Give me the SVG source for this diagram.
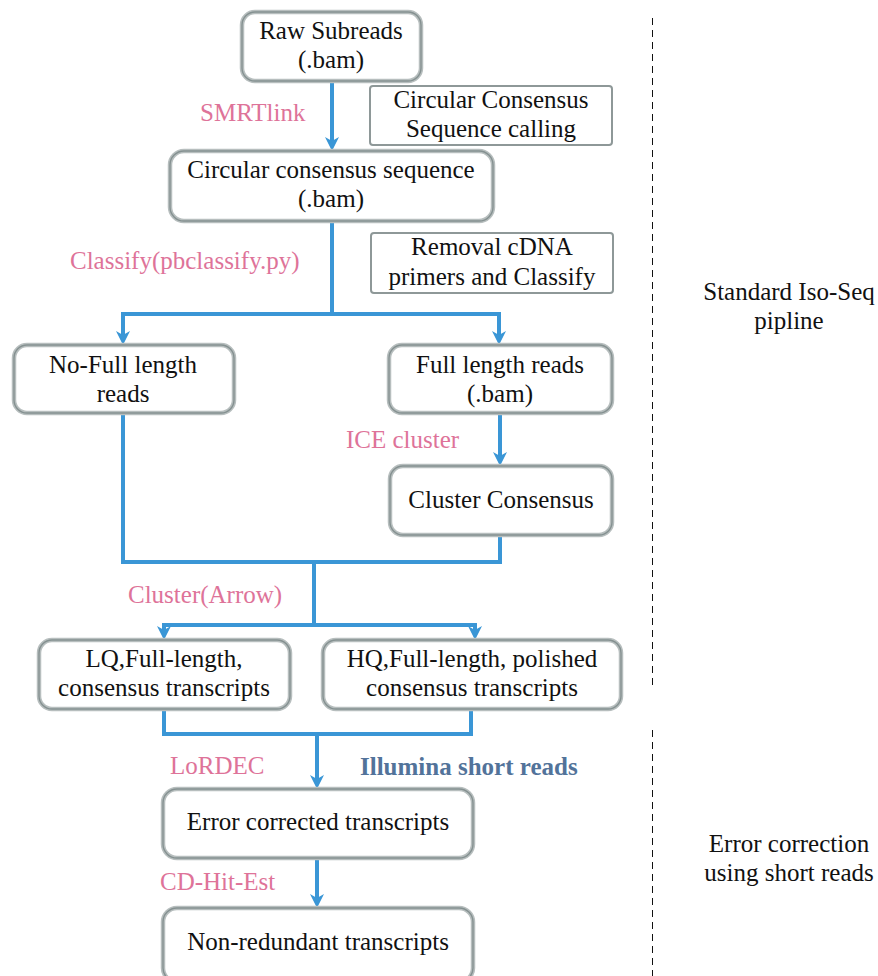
<svg xmlns="http://www.w3.org/2000/svg" width="878" height="976" viewBox="0 0 878 976">
<defs>
<style>
.box{fill:#fff;stroke:#b7bebe;stroke-width:4.5}
.boxin{fill:none;stroke:#859191;stroke-width:1.4}
.note{fill:#fff;stroke:#8e9898;stroke-width:2}
.t{font-family:"Liberation Serif","Times New Roman",serif;font-size:25px;fill:#111;text-anchor:middle}
.p{font-family:"Liberation Serif","Times New Roman",serif;font-size:25px;fill:#de7399}
.il{font-family:"Liberation Serif","Times New Roman",serif;font-size:25px;font-weight:bold;fill:#52739a}
.c{fill:none;stroke:#3a96d6;stroke-width:4;stroke-linejoin:miter}
.a{marker-end:url(#ah)}
.d{stroke:#111;stroke-width:1;stroke-dasharray:7,5;fill:none}
</style>
<marker id="ah" viewBox="0 0 14 14" refX="8" refY="7" markerWidth="14" markerHeight="14" markerUnits="userSpaceOnUse" orient="auto">
<path d="M0,0 L14,7 L0,14 L4,7 z" fill="#3a96d6"/>
</marker>
</defs>

<g id="connectors">
<path class="c a" d="M332,81 V145"/>
<path class="c" d="M332,221 V314"/>
<path class="c a" d="M332,314 H123 V339"/>
<path class="c a" d="M332,314 H499 V339"/>
<path class="c a" d="M500,413 V460"/>
<path class="c" d="M123,413 V562 H500 V535"/>
<path class="c" d="M314,562 V625"/>
<path class="c a" d="M314,625 H164 V634"/>
<path class="c a" d="M314,625 H475 V634"/>
<path class="c" d="M164,709 V734 H471 V709"/>
<path class="c a" d="M317,734 V783"/>
<path class="c a" d="M317,858 V902"/>
</g>

<g id="divider">
<path class="d" d="M652.5,18 V688"/>
<path class="d" d="M652.5,730 V976"/>
</g>

<g id="raw-subreads">
<rect class="box" x="242" y="12" width="179" height="69" rx="13"/>
<rect class="boxin" x="242" y="12" width="179" height="69" rx="13"/>
<text class="t" x="331" y="39">Raw Subreads</text>
<text class="t" x="331" y="68">(.bam)</text>
</g>

<g id="label-smrtlink"><text class="p" x="200" y="121">SMRTlink</text></g>

<g id="note-ccs-calling">
<rect class="note" x="370" y="86" width="242" height="59" rx="3"/>
<text class="t" x="491" y="108">Circular Consensus</text>
<text class="t" x="491" y="137">Sequence calling</text>
</g>

<g id="ccs">
<rect class="box" x="170" y="151" width="323" height="70" rx="14"/>
<rect class="boxin" x="170" y="151" width="323" height="70" rx="14"/>
<text class="t" x="331" y="178">Circular consensus sequence</text>
<text class="t" x="331" y="207">(.bam)</text>
</g>

<g id="label-classify"><text class="p" x="70" y="269">Classify(pbclassify.py)</text></g>

<g id="note-removal">
<rect class="note" x="371" y="233" width="242" height="60" rx="3"/>
<text class="t" x="492" y="255">Removal cDNA</text>
<text class="t" x="492" y="285">primers and Classify</text>
</g>

<g id="no-full-length">
<rect class="box" x="14" y="345" width="220" height="68" rx="13"/>
<rect class="boxin" x="14" y="345" width="220" height="68" rx="13"/>
<text class="t" x="123" y="373">No-Full length</text>
<text class="t" x="123" y="402">reads</text>
</g>

<g id="full-length">
<rect class="box" x="389" y="345" width="223" height="68" rx="13"/>
<rect class="boxin" x="389" y="345" width="223" height="68" rx="13"/>
<text class="t" x="500" y="373">Full length reads</text>
<text class="t" x="500" y="402">(.bam)</text>
</g>

<g id="label-ice"><text class="p" x="346" y="448">ICE cluster</text></g>

<g id="cluster-consensus">
<rect class="box" x="390" y="466" width="222" height="69" rx="13"/>
<rect class="boxin" x="390" y="466" width="222" height="69" rx="13"/>
<text class="t" x="501" y="508">Cluster Consensus</text>
</g>

<g id="label-cluster-arrow"><text class="p" x="128" y="603">Cluster(Arrow)</text></g>

<g id="lq">
<rect class="box" x="39" y="640" width="251" height="69" rx="13"/>
<rect class="boxin" x="39" y="640" width="251" height="69" rx="13"/>
<text class="t" x="164" y="667">LQ,Full-length,</text>
<text class="t" x="164" y="696">consensus transcripts</text>
</g>

<g id="hq">
<rect class="box" x="323" y="640" width="298" height="69" rx="13"/>
<rect class="boxin" x="323" y="640" width="298" height="69" rx="13"/>
<text class="t" x="472" y="667">HQ,Full-length, polished</text>
<text class="t" x="472" y="696">consensus transcripts</text>
</g>

<g id="label-lordec"><text class="p" x="170" y="774">LoRDEC</text></g>
<g id="label-illumina"><text class="il" x="360" y="775">Illumina short reads</text></g>

<g id="error-corrected">
<rect class="box" x="163" y="789" width="310" height="69" rx="14"/>
<rect class="boxin" x="163" y="789" width="310" height="69" rx="14"/>
<text class="t" x="318" y="830">Error corrected transcripts</text>
</g>

<g id="label-cdhit"><text class="p" x="160" y="890">CD-Hit-Est</text></g>

<g id="non-redundant">
<rect class="box" x="163" y="908" width="310" height="74" rx="14"/>
<rect class="boxin" x="163" y="908" width="310" height="74" rx="14"/>
<text class="t" x="318" y="950">Non-redundant transcripts</text>
</g>

<g id="section-standard">
<text class="t" x="789" y="300">Standard Iso-Seq</text>
<text class="t" x="789" y="329">pipline</text>
</g>

<g id="section-error">
<text class="t" x="789" y="852">Error correction</text>
<text class="t" x="789" y="881">using short reads</text>
</g>
</svg>
